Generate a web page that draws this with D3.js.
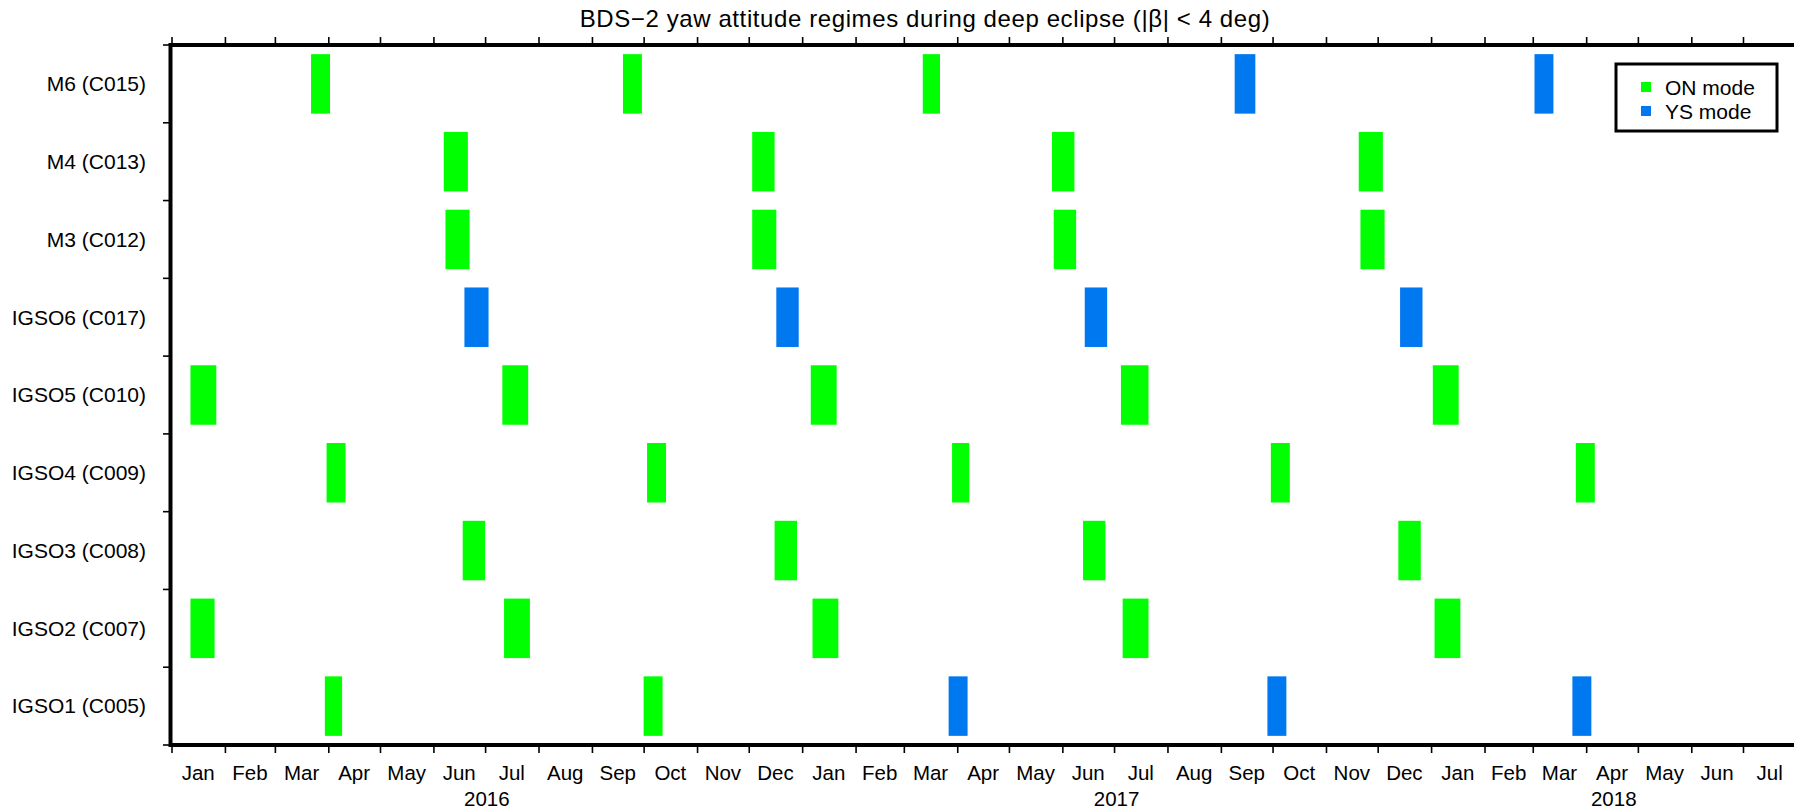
<!DOCTYPE html>
<html>
<head>
<meta charset="utf-8">
<script src="https://cdn.jsdelivr.net/npm/d3@7"></script>
<style>
  html, body { margin: 0; padding: 0; background: #fff; }
  svg { display: block; font-family: "Liberation Sans", Arial, Helvetica, sans-serif; }
</style>
</head>
<body>
<svg id="chart" width="1794" height="811"></svg>
<script>
// Satellites, top to bottom
const satellites = [
  "M6 (C015)", "M4 (C013)", "M3 (C012)", "IGSO6 (C017)", "IGSO5 (C010)",
  "IGSO4 (C009)", "IGSO3 (C008)", "IGSO2 (C007)", "IGSO1 (C005)"
];

// Deep-eclipse seasons flown in orbit-normal (ON) mode: [satellite, start, end]
const onModeSeasons = [
  ["M6 (C015)", "2016-03-22", "2016-04-02"],
  ["M6 (C015)", "2016-09-19", "2016-09-30"],
  ["M6 (C015)", "2017-03-12", "2017-03-22"],
  ["M4 (C013)", "2016-06-07", "2016-06-21"],
  ["M4 (C013)", "2016-12-03", "2016-12-16"],
  ["M4 (C013)", "2017-05-26", "2017-06-08"],
  ["M4 (C013)", "2017-11-20", "2017-12-04"],
  ["M3 (C012)", "2016-06-08", "2016-06-22"],
  ["M3 (C012)", "2016-12-03", "2016-12-17"],
  ["M3 (C012)", "2017-05-27", "2017-06-09"],
  ["M3 (C012)", "2017-11-21", "2017-12-05"],
  ["IGSO5 (C010)", "2016-01-12", "2016-01-27"],
  ["IGSO5 (C010)", "2016-07-11", "2016-07-26"],
  ["IGSO5 (C010)", "2017-01-06", "2017-01-21"],
  ["IGSO5 (C010)", "2017-07-05", "2017-07-21"],
  ["IGSO5 (C010)", "2018-01-02", "2018-01-17"],
  ["IGSO4 (C009)", "2016-03-31", "2016-04-11"],
  ["IGSO4 (C009)", "2016-10-03", "2016-10-14"],
  ["IGSO4 (C009)", "2017-03-29", "2017-04-08"],
  ["IGSO4 (C009)", "2017-09-30", "2017-10-11"],
  ["IGSO4 (C009)", "2018-03-26", "2018-04-06"],
  ["IGSO3 (C008)", "2016-06-18", "2016-07-01"],
  ["IGSO3 (C008)", "2016-12-16", "2016-12-29"],
  ["IGSO3 (C008)", "2017-06-13", "2017-06-26"],
  ["IGSO3 (C008)", "2017-12-13", "2017-12-26"],
  ["IGSO2 (C007)", "2016-01-12", "2016-01-26"],
  ["IGSO2 (C007)", "2016-07-12", "2016-07-27"],
  ["IGSO2 (C007)", "2017-01-07", "2017-01-22"],
  ["IGSO2 (C007)", "2017-07-06", "2017-07-21"],
  ["IGSO2 (C007)", "2018-01-03", "2018-01-18"],
  ["IGSO1 (C005)", "2016-03-30", "2016-04-09"],
  ["IGSO1 (C005)", "2016-10-01", "2016-10-12"]
];

// Deep-eclipse seasons flown in yaw-steering (YS) mode: [satellite, start, end]
const ysModeSeasons = [
  ["M6 (C015)", "2017-09-09", "2017-09-21"],
  ["M6 (C015)", "2018-03-02", "2018-03-13"],
  ["IGSO6 (C017)", "2016-06-19", "2016-07-03"],
  ["IGSO6 (C017)", "2016-12-17", "2016-12-30"],
  ["IGSO6 (C017)", "2017-06-14", "2017-06-27"],
  ["IGSO6 (C017)", "2017-12-14", "2017-12-27"],
  ["IGSO1 (C005)", "2017-03-27", "2017-04-07"],
  ["IGSO1 (C005)", "2017-09-28", "2017-10-09"],
  ["IGSO1 (C005)", "2018-03-24", "2018-04-04"]
];

const modeNames = ["ON mode", "YS mode"];
const modeColors = ["#00ff00", "#0078f0"];
const timeSpan = ["2016-01-01", "2018-08-01"];
const titleText = "BDS\u22122 yaw attitude regimes during deep eclipse (|\u03b2| < 4 deg)";

const parse = d3.utcParse("%Y-%m-%d");
const svg = d3.select("#chart");

const x = d3.scaleUtc()
  .domain(timeSpan.map(parse))
  .range([171.5, 1796.4]);

const y = d3.scaleBand()
  .domain(satellites)
  .range([45, 745])
  .paddingInner(0.235)
  .paddingOuter(0.1175);

const color = d3.scaleOrdinal().domain(modeNames).range(modeColors);

// eclipse season bars
const seasons = [
  ...onModeSeasons.map(d => ({ sat: d[0], start: parse(d[1]), end: parse(d[2]), mode: modeNames[0] })),
  ...ysModeSeasons.map(d => ({ sat: d[0], start: parse(d[1]), end: parse(d[2]), mode: modeNames[1] }))
];

svg.append("g")
  .selectAll("rect")
  .data(seasons)
  .join("rect")
  .attr("x", d => x(d.start))
  .attr("width", d => x(d.end) - x(d.start))
  .attr("y", d => y(d.sat))
  .attr("height", y.bandwidth())
  .attr("fill", d => color(d.mode));

// month ticks, bottom and top
const months = d3.utcMonth.range(x.domain()[0], x.domain()[1]);
const xTicks = d3.axisBottom(x).tickValues(months).tickFormat("").tickSize(8).tickSizeOuter(0);
const xTicksTop = d3.axisTop(x).tickValues(months).tickFormat("").tickSize(8).tickSizeOuter(0);

const gb = svg.append("g").attr("transform", "translate(0,745)").call(xTicks);
const gt = svg.append("g").attr("transform", "translate(0,45)").call(xTicksTop);
[gb, gt].forEach(g => {
  g.select(".domain").remove();
  g.selectAll(".tick line").attr("stroke", "#000").attr("stroke-width", 1.6);
});

// row boundary ticks on the left
const rowEdges = satellites.map(s => y(s) - y.step() * y.paddingInner() / 2);
rowEdges.push(745);
svg.append("g")
  .selectAll("line")
  .data(rowEdges)
  .join("line")
  .attr("x1", 163).attr("x2", 170)
  .attr("y1", d => d).attr("y2", d => d)
  .attr("stroke", "#000").attr("stroke-width", 1.6);

// satellite labels
svg.append("g")
  .selectAll("text")
  .data(satellites)
  .join("text")
  .attr("x", 146)
  .attr("y", d => y(d) + y.bandwidth() / 2)
  .attr("dy", "0.35em")
  .attr("text-anchor", "end")
  .attr("font-size", 21)
  .attr("fill", "#000")
  .text(d => d);

// month labels centred in each month
const monthFmt = d3.utcFormat("%b");
svg.append("g")
  .selectAll("text")
  .data(months)
  .join("text")
  .attr("x", d => (x(d) + x(d3.utcMonth.offset(d, 1))) / 2)
  .attr("y", 780)
  .attr("text-anchor", "middle")
  .attr("font-size", 20.5)
  .attr("fill", "#000")
  .text(d => monthFmt(d));

// year labels centred on the shown part of each year
const years = d3.utcYear.range(d3.utcYear.floor(x.domain()[0]), x.domain()[1]);
svg.append("g")
  .selectAll("text")
  .data(years)
  .join("text")
  .attr("x", d => {
    const a = d3.max([d, x.domain()[0]]);
    const b = d3.min([d3.utcYear.offset(d, 1), x.domain()[1]]);
    return (x(a) + x(b)) / 2;
  })
  .attr("y", 806)
  .attr("text-anchor", "middle")
  .attr("font-size", 20.5)
  .attr("fill", "#000")
  .text(d => d.getUTCFullYear());

// plot frame
svg.append("rect")
  .attr("x", x.range()[0] - 1)
  .attr("y", 45)
  .attr("width", x.range()[1] - x.range()[0] + 1)
  .attr("height", 700)
  .attr("fill", "none")
  .attr("stroke", "#000")
  .attr("stroke-width", 4);

// title
svg.append("text")
  .attr("x", 925)
  .attr("y", 27)
  .attr("text-anchor", "middle")
  .attr("font-size", 24)
  .attr("letter-spacing", 0.6)
  .attr("fill", "#000")
  .text(titleText);

// legend
const legend = svg.append("g").attr("transform", "translate(1616,64)");
legend.append("rect")
  .attr("width", 161).attr("height", 67)
  .attr("fill", "#fff").attr("stroke", "#000").attr("stroke-width", 3);
const items = legend.selectAll("g.item")
  .data(modeNames)
  .join("g")
  .attr("class", "item")
  .attr("transform", (d, i) => `translate(0,${23 + i * 24})`);
items.append("rect")
  .attr("x", 25).attr("y", -5)
  .attr("width", 10).attr("height", 10)
  .attr("fill", d => color(d));
items.append("text")
  .attr("x", 49).attr("y", 0)
  .attr("dy", "0.36em")
  .attr("font-size", 21)
  .attr("fill", "#000")
  .text(d => d);
</script>
</body>
</html>
